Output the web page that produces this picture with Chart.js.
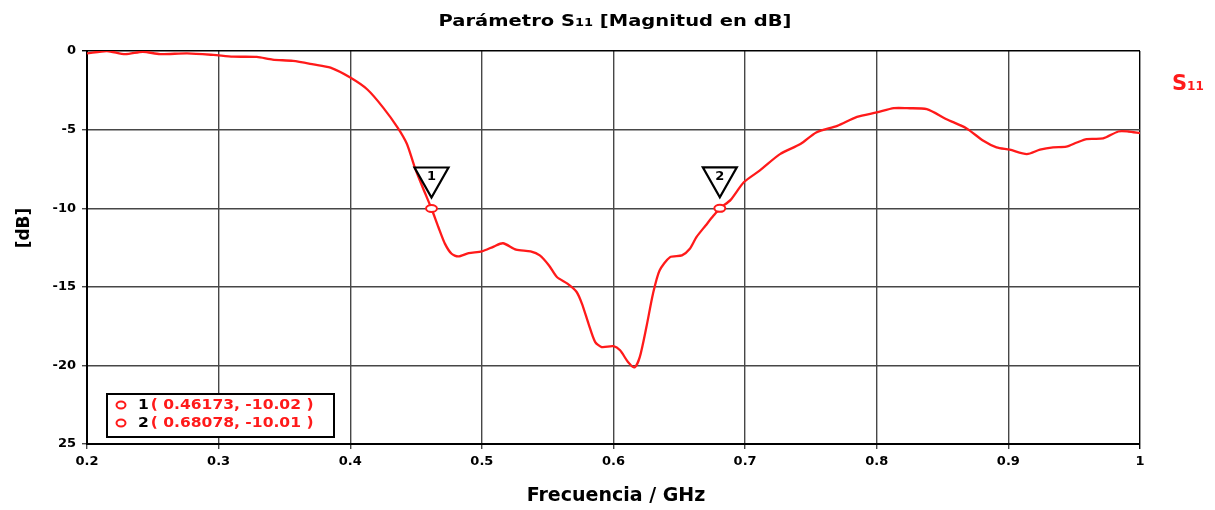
<!DOCTYPE html>
<html>
<head>
<meta charset="utf-8">
<script src="https://cdn.jsdelivr.net/npm/chart.js@4/dist/chart.umd.min.js"></script>
<style>
  html, body { margin: 0; padding: 0; background: #fff; }
  #wrap { width: 1215px; height: 510px; }
</style>
</head>
<body>
<div id="wrap"><canvas id="grafico-s11" width="1215" height="510"></canvas></div>
<script>
// datos (frecuencia en GHz, magnitud en dB)
const frecuencias = [0.200, 0.215, 0.229, 0.2425, 0.2555, 0.276, 0.296, 0.311, 0.329, 0.341,
    0.3565, 0.372, 0.385, 0.400, 0.413, 0.425, 0.436, 0.443, 0.449, 0.455,
    0.4617, 0.467, 0.472, 0.477, 0.482, 0.490, 0.500, 0.509, 0.516, 0.526,
    0.537, 0.544, 0.551, 0.557, 0.565, 0.572, 0.576, 0.581, 0.586, 0.591,
    0.600, 0.605, 0.611, 0.616, 0.620, 0.625, 0.630, 0.635, 0.643, 0.652,
    0.658, 0.663, 0.670, 0.676, 0.6808, 0.689, 0.699, 0.711, 0.7265, 0.742,
    0.754, 0.770, 0.785, 0.800, 0.813, 0.823, 0.838, 0.853, 0.868, 0.881,
    0.891, 0.901, 0.914, 0.924, 0.934, 0.944, 0.952, 0.9595, 0.972, 0.9835,
    0.991, 1.000];
const s11 = [-0.15, 0.0, -0.2, -0.05, -0.2, -0.15, -0.25, -0.36, -0.38, -0.55,
    -0.63, -0.85, -1.06, -1.69, -2.45, -3.6, -4.87, -5.9, -7.4, -8.67,
    -10.02, -11.21, -12.27, -12.9, -13.07, -12.86, -12.75, -12.44, -12.23, -12.63,
    -12.75, -13.0, -13.64, -14.38, -14.8, -15.33, -16.07, -17.34, -18.5, -18.83,
    -18.78, -19.04, -19.78, -20.13, -19.46, -17.56, -15.44, -13.96, -13.11, -13.0,
    -12.58, -11.84, -11.1, -10.47, -10.01, -9.47, -8.35, -7.61, -6.56, -5.92,
    -5.18, -4.76, -4.19, -3.91, -3.64, -3.64, -3.70, -4.34, -4.91, -5.71,
    -6.13, -6.28, -6.56, -6.28, -6.13, -6.09, -5.82, -5.6, -5.56, -5.12,
    -5.12, -5.22];

// marcadores
const marcadoresNum = ['1', '2'];
const marcadoresFrec = [0.46173, 0.68078];
const marcadoresDb = [-10.02, -10.01];
const marcadoresTexto = ['( 0.46173, -10.02 )', '( 0.68078, -10.01 )'];

// ticks
const xTicks = [0.2, 0.3, 0.4, 0.5, 0.6, 0.7, 0.8, 0.9, 1.0];
const xTickLabels = ['0.2', '0.3', '0.4', '0.5', '0.6', '0.7', '0.8', '0.9', '1'];
const yTicks = [-25, -20, -15, -10, -5, 0];
const yTickLabels = ['25', '-20', '-15', '-10', '-5', '0'];

const ROJO = '#ff1a1a';
const FUENTE = "'DejaVu Sans', Verdana, sans-serif";

// textos y marcadores dibujados sobre el canvas
const textosPlugin = {
    id: 'textos',
    afterDatasetsDraw(chart) {
        const ctx = chart.ctx;
        const xs = chart.scales.x, ys = chart.scales.y;
        ctx.save();
        // triangulos y circulos de marcador
        marcadoresFrec.forEach((f, i) => {
            const px = xs.getPixelForValue(f);
            const py = ys.getPixelForValue(marcadoresDb[i]);
            ctx.beginPath();
            ctx.moveTo(px - 17, py - 41);
            ctx.lineTo(px + 17, py - 41);
            ctx.lineTo(px, py - 11);
            ctx.closePath();
            ctx.fillStyle = '#fff';
            ctx.fill();
            ctx.lineWidth = 2.2;
            ctx.strokeStyle = '#000';
            ctx.stroke();
            ctx.fillStyle = '#000';
            ctx.font = 'bold 13px ' + FUENTE;
            ctx.textAlign = 'center';
            ctx.textBaseline = 'middle';
            ctx.fillText(marcadoresNum[i], px, py - 32);

            ctx.beginPath();
            ctx.ellipse(px, py, 5.5, 3.5, 0, 0, Math.PI * 2);
            ctx.fillStyle = '#fff';
            ctx.fill();
            ctx.lineWidth = 2;
            ctx.strokeStyle = ROJO;
            ctx.stroke();
        });

        // cuadro con los valores de los marcadores
        const bx = chart.chartArea.left + 20, by = chart.chartArea.bottom - 50;
        ctx.fillStyle = '#fff';
        ctx.fillRect(bx, by, 227, 43);
        ctx.lineWidth = 2;
        ctx.strokeStyle = '#000';
        ctx.strokeRect(bx, by, 227, 43);
        marcadoresNum.forEach((n, i) => {
            const ty = by + 11 + i * 18;
            ctx.beginPath();
            ctx.ellipse(bx + 14, ty, 4.5, 3.5, 0, 0, Math.PI * 2);
            ctx.lineWidth = 2;
            ctx.strokeStyle = ROJO;
            ctx.stroke();
            ctx.save();
            ctx.translate(bx + 31, ty);
            ctx.scale(1.11, 1);
            ctx.font = 'bold 14px ' + FUENTE;
            ctx.textAlign = 'left';
            ctx.textBaseline = 'middle';
            ctx.fillStyle = '#000';
            ctx.fillText(n, 0, 0);
            ctx.fillStyle = ROJO;
            ctx.fillText(marcadoresTexto[i], 11.5, 0);
            ctx.restore();
        });
        ctx.restore();
    },
    afterDraw(chart) {
        const ctx = chart.ctx;
        ctx.save();
        ctx.fillStyle = '#000';
        ctx.textBaseline = 'alphabetic';

        // titulo con S11 en pequeño (fuente ancha)
        const f1 = 'bold 15px ' + FUENTE, f2 = 'bold 10px ' + FUENTE;
        const p1 = 'Parámetro S', p2 = '11', p3 = ' [Magnitud en dB]';
        ctx.font = f1;
        const w1 = ctx.measureText(p1).width, w3 = ctx.measureText(p3).width;
        ctx.font = f2;
        const w2 = ctx.measureText(p2).width;
        const estira = 1.3;
        ctx.save();
        ctx.translate(615 - estira * (w1 + w2 + w3) / 2, 26);
        ctx.scale(estira, 1);
        ctx.textAlign = 'left';
        let tx = 0;
        ctx.font = f1; ctx.fillText(p1, tx, 0); tx += w1;
        ctx.font = f2; ctx.fillText(p2, tx, 0); tx += w2;
        ctx.font = f1; ctx.fillText(p3, tx, 0);
        ctx.restore();

        // etiqueta de la serie
        ctx.fillStyle = ROJO;
        ctx.font = 'bold 21px ' + FUENTE;
        ctx.fillText('S', 1172, 90);
        const ws = ctx.measureText('S').width;
        ctx.font = 'bold 12px ' + FUENTE;
        ctx.fillText('11', 1172 + ws, 90);

        // titulos de ejes
        ctx.fillStyle = '#000';
        ctx.font = 'bold 19px ' + FUENTE;
        ctx.textAlign = 'center';
        ctx.fillText('Frecuencia / GHz', 616, 501);

        ctx.translate(29, 228);
        ctx.rotate(-Math.PI / 2);
        ctx.font = 'bold 17px ' + FUENTE;
        ctx.fillText('[dB]', 0, 0);
        ctx.restore();
    }
};

const ctx = document.getElementById('grafico-s11').getContext('2d');
new Chart(ctx, {
    type: 'scatter',
    data: {
        datasets: [{
            label: 'S11',
            data: frecuencias.map((f, i) => ({ x: f, y: s11[i] })),
            showLine: true,
            borderColor: ROJO,
            borderWidth: 2.3,
            pointRadius: 0,
            tension: 0.25
        }]
    },
    options: {
        responsive: false,
        animation: false,
        devicePixelRatio: 1,
        layout: { padding: { left: 37, right: 75, top: 51, bottom: 36 } },
        plugins: { legend: { display: false }, title: { display: false }, tooltip: { enabled: false } },
        scales: {
            x: {
                type: 'linear',
                min: 0.2,
                max: 1.0,
                afterBuildTicks: s => { s.ticks = xTicks.map(v => ({ value: v })); },
                afterFit: s => { s.height = 30; },
                ticks: {
                    callback: (v, i) => xTickLabels[i],
                    color: '#000',
                    font: { family: FUENTE, size: 13, weight: 'bold' },
                    padding: 5,
                    maxRotation: 0
                },
                grid: {
                    color: c => (c.index === xTicks.length - 1 ? '#000' : '#474747'),
                    lineWidth: 1.4,
                    tickLength: 5
                },
                border: { color: '#000', width: 2 }
            },
            y: {
                min: -25,
                max: 0,
                afterBuildTicks: s => { s.ticks = yTicks.map(v => ({ value: v })); },
                afterFit: s => { s.width = 50; },
                ticks: {
                    callback: (v, i) => yTickLabels[i],
                    color: '#000',
                    font: { family: FUENTE, size: 13, weight: 'bold' },
                    padding: 6
                },
                grid: {
                    color: c => (c.index === yTicks.length - 1 ? '#000' : '#474747'),
                    lineWidth: 1.4,
                    tickLength: 5
                },
                border: { color: '#000', width: 2 }
            }
        }
    },
    plugins: [textosPlugin]
});
</script>
</body>
</html>
